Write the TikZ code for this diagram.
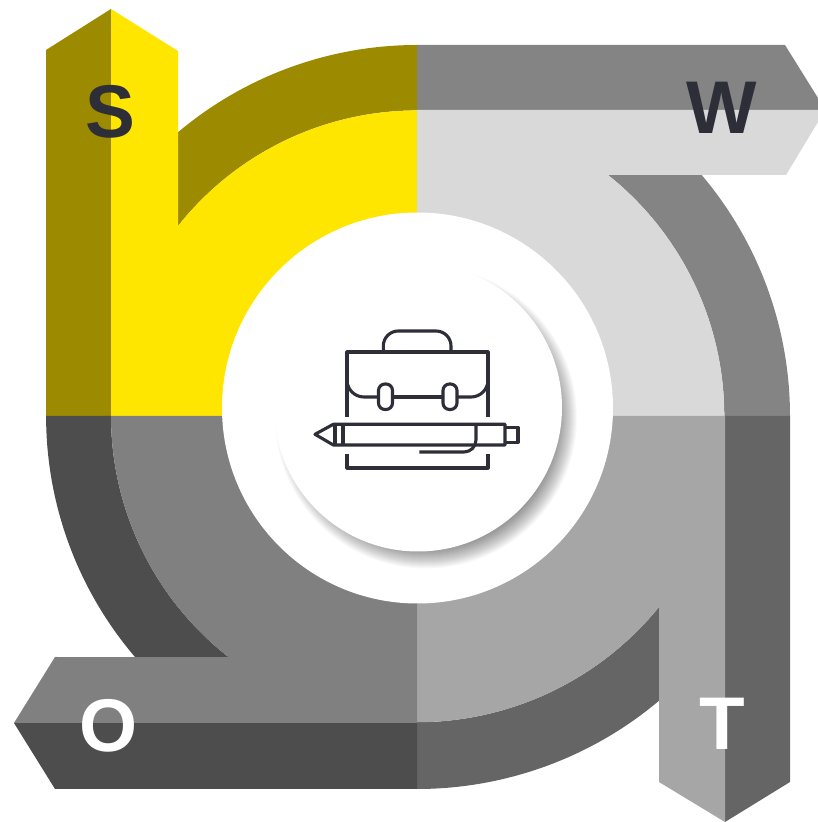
\documentclass[tikz,border=0pt]{standalone}
\usepackage{fontspec}
\setmainfont{Liberation Sans}
\definecolor{olive}{HTML}{9C8A00}
\definecolor{yolk}{HTML}{FFE600}
\definecolor{ink}{HTML}{2E2E38}
\definecolor{wdark}{HTML}{848484}
\definecolor{wlight}{HTML}{D9D9D9}
\definecolor{tdark}{HTML}{656565}
\definecolor{tlight}{HTML}{A6A6A6}
\definecolor{odark}{HTML}{4D4D4D}
\definecolor{olight}{HTML}{808080}
\begin{document}
\begin{tikzpicture}[x=.02cm, y=.02cm, line join=round, line cap=butt,
	icon/.style={draw=ink, line width=.062cm},
	letter/.style={font=\fontsize{42.5}{42.5}\selectfont\bfseries, inner sep=0pt}]
	\useasboundingbox (0,0) rectangle (818,822);
	\path (417,406) coordinate (M)
	(417,777) coordinate (Stop)
	(417,711) coordinate (Sin)
	(725,406) coordinate (Win)
	(790,406) coordinate (Wout)
	(417,100) coordinate (Tin)
	(417,33) coordinate (Tout)
	(111,406) coordinate (Oin)
	(46,406) coordinate (Oout);
	% S
	\fill[olive] (46,772)--(111,813)--(111,406)--(46,406)--cycle;
	\fill[olive] (178,690)--(178,596) arc[start angle=141.6, end angle=90, radius=305]--(Stop) arc[start angle=90, end angle=130.1, radius=371]--cycle;
	\fill[yolk] (111,813)--(178,771)--(178,596) arc[start angle=141.6, end angle=90, radius=305]--(M)--(Oin)--cycle;
	% W
	\fill[wdark] (Stop)--(785,777)--(818,724)--(818,712)--(417,712)--cycle;
	\fill[wdark] (Wout) arc[start angle=0, end angle=40.25, radius=373]--(608,647) arc[start angle=51.5, end angle=0, radius=308]--cycle;
	\fill[wlight] (417,712)--(818,712)--(818,700)--(786,647)--(608,647) arc[start angle=51.5, end angle=0, radius=308]--(M)--cycle;
	% T
	\fill[tdark] (Win)--(Wout)--(790,40)--(725,0)--cycle;
	\fill[tdark] (Tout) arc[start angle=-90, end angle=-49.9, radius=376]--(659,215) arc[start angle=-39.1, end angle=-90, radius=312]--cycle;
	\fill[tlight] (M)--(Win)--(725,0)--(659,40)--(659,215) arc[start angle=-39.1, end angle=-90, radius=312]--cycle;
	% O
	\fill[odark] (14,99)--(417,99)--(Tout)--(55,33)--cycle;
	\fill[odark] (Oout)--(Oin) arc[start angle=180, end angle=232, radius=306]--(135,165) arc[start angle=220.5, end angle=180, radius=371]--cycle;
	\fill[olight] (M)--(Oin) arc[start angle=180, end angle=232, radius=306]--(55,165)--(14,99)--(417,99)--cycle;
	% disc
	\fill[white] (417.5,414) circle(195.5);
	\foreach \r in {0,1,...,21}
	\fill[black, opacity=.025] (426,404.5) circle({130+\r});
	\fill[white] (418,414.5) circle(144);
	% briefcase
	\draw[icon] (347,405) |- (488,470) -- (488,405);
	\draw[icon] (347,368) |- (488,354) -- (488,368);
	\draw[icon] (383.3,470) -- (383.3,476) arc[start angle=180, end angle=90, radius=15] -- (436,491) arc[start angle=90, end angle=0, radius=15] -- (451,470);
	\draw[icon] (347,442) arc[start angle=180, end angle=270, radius=17] -- (378.5,425);
	\draw[icon] (488,442) arc[start angle=0, end angle=-90, radius=17] -- (457,425);
	\draw[icon] (392.5,425) -- (443,425);
	\foreach \x in {378.5,443}
	\draw[icon, rounded corners=.13cm] (\x,412.5) rectangle ++(14,25.5);
	% pen
	\draw[icon] (505,397.7) -- (333.3,397.7) -- (315,387.7) -- (333.3,377) -- (505,377) -- cycle;
	\draw[icon] (505,394.7) -- (518,394.7) -- (518,379.7) -- (505,379.7);
	\draw[icon] (335,397.7) -- (335,377);
	\draw[icon, line width=.08cm] (343.3,397.7) -- (343.3,377);
	\draw[icon] (476,397.7) -- (476,382) arc[start angle=0, end angle=-90, radius=12] -- (419.3,370);
	% letters
	\foreach \d/\p/\c in {S/{110.5,710.5}/ink, W/{722,714.5}/ink, O/{109,96}/white, T/{722.5,98}/white}
	\node[letter, text=\c] (\d) at (\p) {\d};
\end{tikzpicture}
\end{document}
